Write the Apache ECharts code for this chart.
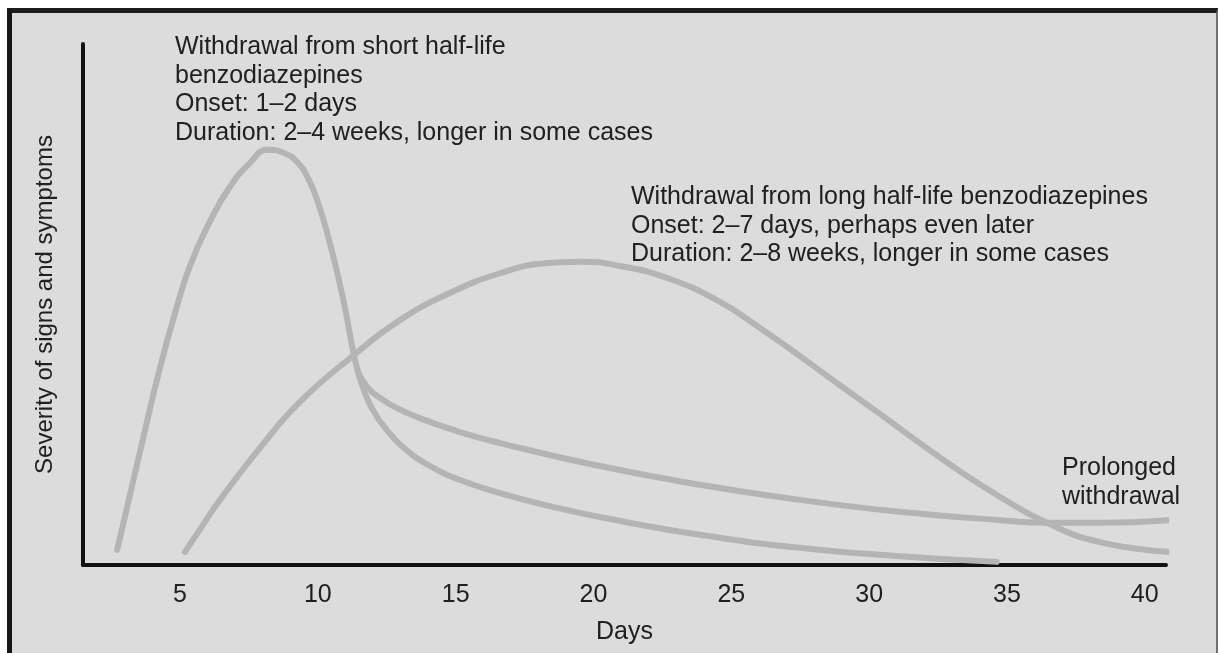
<!DOCTYPE html>
<html>
<head>
<meta charset="utf-8">
<script src="https://cdn.jsdelivr.net/npm/echarts@6/dist/echarts.min.js"></script>
<style>
  html, body { margin: 0; padding: 0; background: #ffffff; width: 1218px; height: 653px; overflow: hidden; }
  #frame {
    position: absolute; left: 7px; top: 8px; width: 1211px; height: 660px;
    box-sizing: border-box; background: #dcdcdc;
    border-left: 5px solid #161616; border-top: 5px solid #1c1c1c; border-right: 2px solid #707070;
  }
  #chart { position: absolute; left: 0; top: 0; width: 1204px; height: 640px; }
</style>
</head>
<body>
<div id="frame"><div id="chart"></div></div>
<script>
// ---- data ----
const xTickDays = [5, 10, 15, 20, 25, 30, 35, 40];

// short half-life withdrawal curve (days, severity 0-100)
const shortDays = [2.72, 3.19, 3.73, 4.27, 4.82, 5.36, 6.09, 6.81, 7.54, 8.19, 8.81, 9.24, 9.64, 10.01, 10.37, 10.73, 11.02, 11.27, 11.46, 11.67, 11.96, 12.44, 13.16, 14.07, 15.16, 16.61, 18.42, 20.23, 23.86, 27.49, 31.11, 34.63];
const shortSeverity = [2.9, 13.6, 25.9, 37.8, 48.4, 57.4, 66.0, 72.6, 77.2, 79.7, 79.0, 77.4, 74.3, 69.5, 63.1, 55.5, 48.4, 41.3, 37.0, 33.6, 30.1, 26.3, 22.3, 19.0, 16.3, 13.8, 11.3, 9.2, 5.8, 3.3, 1.7, 0.6];

// prolonged withdrawal tail
const prolongedDays = [11.46, 11.82, 12.25, 12.80, 13.70, 15.16, 16.61, 20.23, 23.86, 27.49, 31.11, 34.74, 36.45, 38.37, 40.83];
const prolongedSeverity = [37.0, 34.0, 32.1, 30.3, 28.2, 25.5, 23.4, 19.0, 15.4, 12.5, 10.2, 8.6, 8.1, 8.1, 8.6];

// long half-life withdrawal curve
const longDays = [5.18, 5.73, 6.45, 7.90, 9.35, 11.17, 12.98, 14.79, 16.61, 18.24, 19.51, 20.96, 22.77, 24.59, 26.04, 27.49, 28.94, 30.39, 31.84, 33.29, 34.74, 36.45, 38.37, 40.91];
const longSeverity = [2.5, 6.9, 12.5, 22.5, 31.3, 39.7, 47.0, 52.2, 56.0, 57.9, 58.2, 57.4, 54.9, 50.5, 45.5, 40.1, 34.5, 29.0, 23.4, 18.0, 13.1, 8.1, 4.4, 2.5];

const shortText = ['Withdrawal from short half-life', 'benzodiazepines', 'Onset: 1–2 days', 'Duration: 2–4 weeks, longer in some cases'];
const longText = ['Withdrawal from long half-life benzodiazepines', 'Onset: 2–7 days, perhaps even later', 'Duration: 2–8 weeks, longer in some cases'];
const prolongedText = ['Prolonged', 'withdrawal'];
const xName = 'Days';
const yName = 'Severity of signs and symptoms';

// ---- build ----
const pairs = (xs, ys) => xs.map((x, i) => [x, ys[i]]);
const FONT = '"Liberation Sans", Arial, sans-serif';
const TXT = '#202020';
const CURVE = '#b4b4b4';

const lineSeries = (name, data) => ({
  name, type: 'line', data, smooth: 0.5, showSymbol: false, clip: false,
  lineStyle: { color: CURVE, width: 6, cap: 'round', join: 'round' },
  silent: true, animation: false
});

const chart = echarts.init(document.getElementById('chart'));
chart.setOption({
  backgroundColor: 'transparent',
  animation: false,
  grid: { left: 71, top: 31, right: 50, bottom: 88 },
  xAxis: {
    type: 'value', min: 1.48, max: 40.77,
    name: xName, nameLocation: 'middle', nameGap: 55,
    nameTextStyle: { color: TXT, fontSize: 25, fontFamily: FONT },
    axisLine: { show: true, lineStyle: { color: '#111', width: 4 } },
    axisTick: { show: false },
    splitLine: { show: false },
    axisLabel: { customValues: xTickDays, color: TXT, fontSize: 25, fontFamily: FONT, margin: 18 }
  },
  yAxis: {
    type: 'value', min: 0, max: 100,
    name: yName, nameLocation: 'middle', nameGap: 26,
    nameTextStyle: { color: TXT, fontSize: 24, fontFamily: FONT },
    axisLine: { show: true, lineStyle: { color: '#111', width: 4, cap: 'round' } },
    axisTick: { show: false },
    splitLine: { show: false },
    axisLabel: { show: false }
  },
  graphic: [
    { type: 'text', left: 163, top: 20, silent: true,
      style: { text: shortText.join('\n'), fill: TXT, font: '25px ' + FONT, lineHeight: 28.5 } },
    { type: 'text', left: 619, top: 170, silent: true,
      style: { text: longText.join('\n'), fill: TXT, font: '25px ' + FONT, lineHeight: 28.5 } },
    { type: 'text', left: 1050, top: 441, silent: true,
      style: { text: prolongedText.join('\n'), fill: TXT, font: '25px ' + FONT, lineHeight: 28.5, align: 'center', width: 118 } }
  ],
  series: [
    lineSeries('Short half-life', pairs(shortDays, shortSeverity)),
    lineSeries('Prolonged', pairs(prolongedDays, prolongedSeverity)),
    lineSeries('Long half-life', pairs(longDays, longSeverity))
  ]
});
</script>
</body>
</html>
